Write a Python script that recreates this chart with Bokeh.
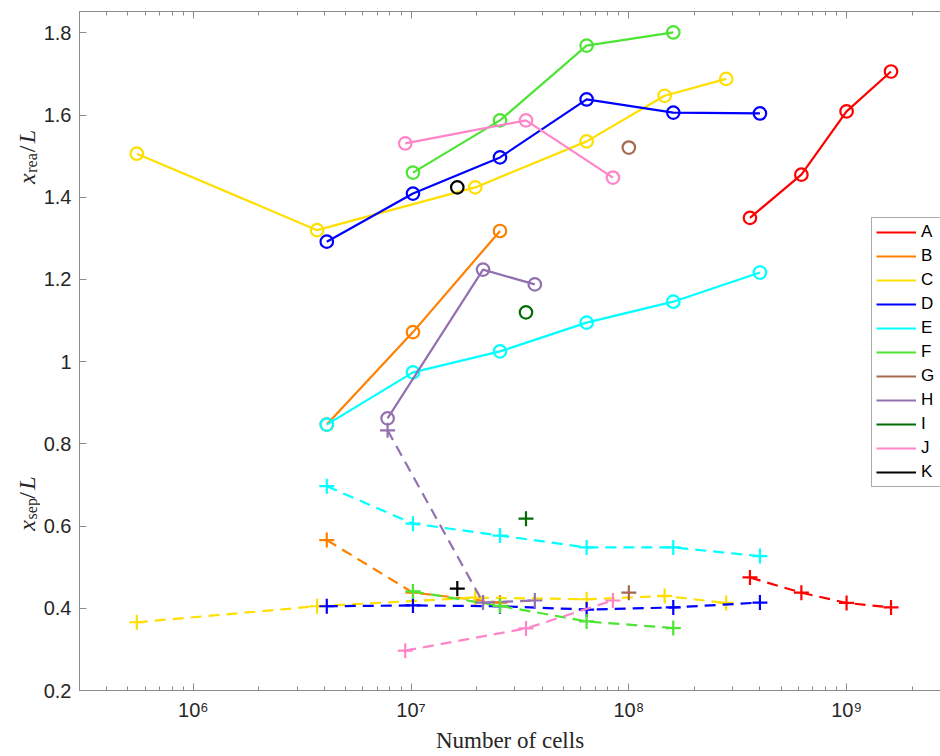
import math
from bokeh.plotting import figure
from bokeh.layouts import row
from bokeh.models import (Range1d, LogAxis, FixedTicker, CustomJSTickFormatter,
                          Legend, LegendItem)
from bokeh.core.properties import value
from bokeh.embed import file_html
from bokeh.resources import INLINE

# ---------------- data ----------------
names = ["A", "B", "C", "D", "E", "F", "G", "H", "I", "J", "K"]
colors = ["#ff0000", "#ff8000", "#ffdf00", "#0000ff", "#00ffff", "#4de433",
          "#a56a50", "#9370b0", "#006e00", "#ff85c8", "#000000"]

A_cells = [3.6e8, 6.2e8, 1.0e9, 1.6e9]
A_xrea = [1.350, 1.455, 1.609, 1.706]
A_xsep = [0.475, 0.438, 0.413, 0.402]

B_cells = [4.1e6, 1.02e7, 2.56e7]
B_xrea = [0.847, 1.072, 1.318]
B_xsep = [0.566, 0.438, 0.414]

C_cells = [5.5e5, 3.7e6, 1.97e7, 6.4e7, 1.46e8, 2.8e8]
C_xrea = [1.506, 1.320, 1.424, 1.536, 1.647, 1.688]
C_xsep = [0.366, 0.405, 0.426, 0.422, 0.430, 0.413]

D_cells = [4.1e6, 1.02e7, 2.56e7, 6.4e7, 1.6e8, 4.0e8]
D_xrea = [1.292, 1.409, 1.497, 1.638, 1.606, 1.604]
D_xsep = [0.405, 0.407, 0.405, 0.397, 0.402, 0.414]

E_cells = [4.1e6, 1.02e7, 2.56e7, 6.4e7, 1.6e8, 4.0e8]
E_xrea = [0.847, 0.974, 1.025, 1.095, 1.146, 1.217]
E_xsep = [0.697, 0.606, 0.577, 0.548, 0.548, 0.527]

F_cells = [1.02e7, 2.56e7, 6.4e7, 1.6e8]
F_xrea = [1.460, 1.587, 1.769, 1.801]
F_xsep = [0.441, 0.406, 0.368, 0.352]

G_cells = [1.0e8]
G_xrea = [1.521]
G_xsep = [0.438]

H_cells = [7.8e6, 2.14e7, 3.7e7]
H_xrea = [0.862, 1.224, 1.188]
H_xsep = [0.833, 0.414, 0.419]

I_cells = [3.37e7]
I_xrea = [1.120]
I_xsep = [0.618]

J_cells = [9.4e6, 3.37e7, 8.45e7]
J_xrea = [1.531, 1.587, 1.448]
J_xsep = [0.297, 0.351, 0.419]

K_cells = [1.63e7]
K_xrea = [1.424]
K_xsep = [0.448]

series = [
    (A_cells, A_xrea, A_xsep), (B_cells, B_xrea, B_xsep), (C_cells, C_xrea, C_xsep),
    (D_cells, D_xrea, D_xsep), (E_cells, E_xrea, E_xsep), (F_cells, F_xrea, F_xsep),
    (G_cells, G_xrea, G_xsep), (H_cells, H_xrea, H_xsep), (I_cells, I_xrea, I_xsep),
    (J_cells, J_xrea, J_xsep), (K_cells, K_xrea, K_xsep),
]

x_major = [1e6, 1e7, 1e8, 1e9]
y_major = [0.2, 0.4, 0.6, 0.8, 1.0, 1.2, 1.4, 1.6, 1.8]

# ---------------- style ----------------
AX = "#8a8a8a"
TXT = "#262626"
SANS = "Liberation Sans"
SERIF = "Liberation Serif"
H = 756
LABEL_W = 40

# ---------------- main figure ----------------
p = figure(width=940 - LABEL_W, height=H, x_axis_type="log",
           x_range=Range1d(3.0e5, 2.70e9), y_range=Range1d(0.2, 1.852),
           output_backend="svg", toolbar_location=None,
           min_border_left=78 - LABEL_W, min_border_right=0, min_border_top=11,
           min_border_bottom=66)
p.outline_line_color = None
p.xgrid.visible = False
p.ygrid.visible = False
p.background_fill_color = "white"
p.border_fill_color = "white"

minor = [m * 10 ** e for e in range(5, 10) for m in range(2, 10)
         if 3.0e5 <= m * 10 ** e <= 2.7e9]

sup_js = """
const sup = {'0':'\u2070','1':'\u00b9','2':'\u00b2','3':'\u00b3','4':'\u2074',
             '5':'\u2075','6':'\u2076','7':'\u2077','8':'\u2078','9':'\u2079','-':'\u207b'};
const e = Math.round(Math.log10(tick));
return '10' + String(e).split('').map(c => sup[c]).join('');
"""

xa = p.xaxis[0]
xa.ticker = FixedTicker(ticks=x_major, minor_ticks=minor)
xa.formatter = CustomJSTickFormatter(code=sup_js)
xa.axis_label = "Number of cells"
xa.axis_label_text_font = SERIF
xa.axis_label_text_font_style = "normal"
xa.axis_label_text_font_size = "23px"
xa.axis_label_text_color = TXT
xa.axis_label_standoff = 4
xa.major_label_text_font = SANS
xa.major_label_text_font_size = "20px"
xa.major_label_text_color = TXT
xa.major_label_standoff = 8

ya = p.yaxis[0]
ya.ticker = FixedTicker(ticks=y_major)
ya.formatter = CustomJSTickFormatter(code="return tick.toFixed(1).replace(/\\.0$/, '');")
ya.major_label_text_font = SANS
ya.major_label_text_font_size = "20px"
ya.major_label_text_color = TXT
ya.major_label_standoff = 8

for ax in (xa, ya):
    ax.axis_line_color = AX
    ax.major_tick_line_color = AX
    ax.minor_tick_line_color = AX
    ax.major_tick_in = 7
    ax.major_tick_out = 0
    ax.minor_tick_in = 4
    ax.minor_tick_out = 0
ya.minor_tick_line_color = None

top = LogAxis(ticker=FixedTicker(ticks=x_major, minor_ticks=minor),
              formatter=CustomJSTickFormatter(code="return ' ';"),
              major_label_text_font_size="2px", major_label_standoff=0,
              axis_line_color=AX, major_tick_line_color=AX, minor_tick_line_color=AX,
              major_tick_in=7, major_tick_out=0, minor_tick_in=4, minor_tick_out=0)
p.add_layout(top, "above")

# ---------------- series ----------------
items = []
for name, col, (cells, xrea, xsep) in zip(names, colors, series):
    r = p.line(cells, xrea, line_color=col, line_width=2.2)
    p.scatter(cells, xrea, marker="circle", size=12.5, line_color=col,
              line_width=2.2, fill_color=None)
    p.line(cells, xsep, line_color=col, line_width=2.2, line_dash="11 7")
    p.scatter(cells, xsep, marker="cross", size=15, line_color=col, line_width=2.2)
    items.append(LegendItem(label=name, renderers=[r]))

legend = Legend(items=items, location=(792, 203), orientation="vertical",
                label_text_font=SANS, label_text_font_size="17px",
                label_text_color="black", glyph_width=40, glyph_height=20,
                label_height=20, spacing=4, label_standoff=5, padding=4, margin=0,
                border_line_color="#555555", border_line_width=1,
                background_fill_color="white", background_fill_alpha=1.0)
p.add_layout(legend, "center")

# ---------------- y-axis labels in a narrow side panel ----------------
lab = figure(width=LABEL_W, height=H, x_range=Range1d(0, LABEL_W), y_range=Range1d(0, H),
             output_backend="svg", toolbar_location=None, min_border=0,
             x_axis_location=None, y_axis_location=None)
lab.outline_line_color = None
lab.xgrid.visible = False
lab.ygrid.visible = False
lab.border_fill_color = "white"
lab.background_fill_color = "white"


def ylabel(sub, start_py):
    base_x = 26
    w_x, w_sub, w_sl = 12.5, 7.3 * len(sub), 10
    parts = [("x", "italic", 24, 0, 0),
             (sub, "normal", 16, w_x, 5),
             ("/", "normal", 24, w_x + w_sub + 1, 0),
             ("L", "italic", 24, w_x + w_sub + 1 + w_sl, 0)]
    for txt, style, size, along, shift in parts:
        lab.text(x=[base_x + shift], y=[H - start_py + along], text=[txt],
                 angle=math.pi / 2, text_font=value(SERIF), text_font_style=style,
                 text_font_size=f"{size}px", text_color=TXT,
                 text_align="left", text_baseline="alphabetic")


ylabel("rea", 192)
ylabel("sep", 578)

layout = row(lab, p)
open("out.html", "w").write(file_html(layout, INLINE))
